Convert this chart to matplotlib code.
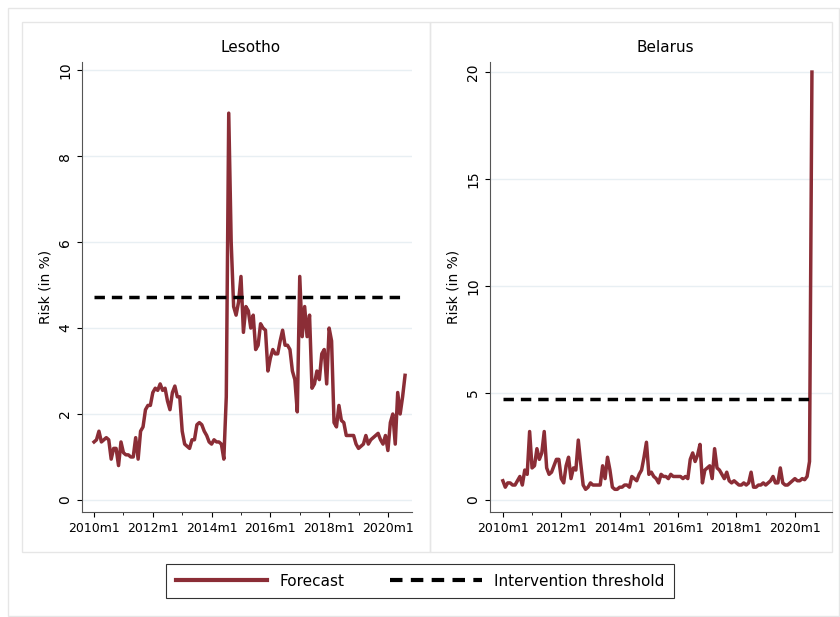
import matplotlib
matplotlib.use("Agg")
import matplotlib.pyplot as plt
import numpy as np
from matplotlib.patches import Rectangle
from matplotlib.lines import Line2D

# monthly risk values starting 2010m1
lesotho = [1.35, 1.4, 1.6, 1.35, 1.4, 1.45, 1.4, 0.95, 1.2, 1.2, 0.8, 1.35,
           1.1, 1.05, 1.05, 1.0, 1.0, 1.45, 0.95, 1.6, 1.7, 2.1, 2.2, 2.2,
           2.5, 2.6, 2.55, 2.7, 2.55, 2.6, 2.3, 2.1, 2.5, 2.65, 2.4, 2.4,
           1.6, 1.3, 1.25, 1.2, 1.4, 1.4, 1.75, 1.8, 1.75, 1.6, 1.5, 1.35,
           1.3, 1.4, 1.35, 1.35, 1.3, 0.95, 2.4, 9.0, 6.0, 4.5, 4.3, 4.6,
           5.2, 3.9, 4.5, 4.4, 4.0, 4.3, 3.5, 3.6, 4.1, 4.0, 3.95, 3.0,
           3.3, 3.5, 3.4, 3.4, 3.7, 3.95, 3.6, 3.6, 3.5, 3.0, 2.8, 2.05,
           5.2, 3.8, 4.5, 3.8, 4.3, 2.6, 2.7, 3.0, 2.8, 3.4, 3.5, 2.7,
           4.0, 3.7, 1.8, 1.7, 2.2, 1.85, 1.8, 1.5, 1.5, 1.5, 1.5, 1.3,
           1.2, 1.25, 1.3, 1.5, 1.3, 1.4, 1.45, 1.5, 1.55, 1.4, 1.3, 1.5,
           1.15, 1.8, 2.0, 1.3, 2.5, 2.0, 2.4, 2.9]
belarus = [0.9, 0.6, 0.8, 0.8, 0.7, 0.7, 0.9, 1.1, 0.7, 1.4, 1.2, 3.2,
           1.5, 1.6, 2.4, 1.9, 2.2, 3.2, 1.5, 1.2, 1.3, 1.6, 1.9, 1.9,
           1.0, 0.8, 1.6, 2.0, 1.0, 1.5, 1.4, 2.8, 1.7, 0.7, 0.5, 0.6,
           0.8, 0.7, 0.7, 0.7, 0.7, 1.6, 1.0, 2.0, 1.4, 0.6, 0.5, 0.5,
           0.6, 0.6, 0.7, 0.7, 0.6, 1.1, 1.0, 0.9, 1.2, 1.4, 2.0, 2.7,
           1.2, 1.3, 1.1, 1.0, 0.8, 1.2, 1.1, 1.1, 1.0, 1.2, 1.1, 1.1,
           1.1, 1.1, 1.0, 1.1, 1.0, 1.9, 2.2, 1.8, 2.1, 2.6, 0.8, 1.4,
           1.5, 1.6, 1.0, 2.4, 1.5, 1.4, 1.2, 1.0, 1.3, 0.9, 0.8, 0.9,
           0.8, 0.7, 0.7, 0.8, 0.7, 0.8, 1.3, 0.6, 0.6, 0.7, 0.7, 0.8,
           0.7, 0.8, 0.9, 1.1, 0.8, 0.8, 1.5, 0.8, 0.7, 0.7, 0.8, 0.9,
           1.0, 0.9, 0.9, 1.0, 0.95, 1.1, 1.8, 20.0]
threshold = 4.72
countries = ["Lesotho", "Belarus"]
yticks = [[0, 2, 4, 6, 8, 10], [0, 5, 10, 15, 20]]
xticks = [2010, 2012, 2014, 2016, 2018, 2020]
xlabels = ["2010m1", "2012m1", "2014m1", "2016m1", "2018m1", "2020m1"]

red = "#8b2d36"
W, H = 840, 617
fig = plt.figure(figsize=(W / 100, H / 100), dpi=100)

def fx(px, py, pw, ph):
    return [px / W, 1 - (py + ph) / H, pw / W, ph / H]

# outer and panel frames
bg = fig.add_axes([0, 0, 1, 1]); bg.axis("off")
bg.set_xlim(0, W); bg.set_ylim(H, 0)
bg.add_patch(Rectangle((8, 8), W - 9, H - 9, fill=False, ec="#e6e6e6", lw=1))
bg.add_patch(Rectangle((22, 22), 408, 530, fill=False, ec="#e6e6e6", lw=1))
bg.add_patch(Rectangle((430, 22), 402, 530, fill=False, ec="#e6e6e6", lw=1))

boxes = [fx(82, 62, 330, 450), fx(490, 62, 342, 450)]
series = [lesotho, belarus]
ylims = [(-0.28, 10.19), (-0.56, 20.47)]
xlims = [(2009.59, 2020.82), (2009.56, 2021.27)]
titles_y = [47, 47]
for i in range(2):
    ax = fig.add_axes(boxes[i])
    y = np.array(series[i])
    x = 2010 + np.arange(len(y)) / 12
    ax.plot(x, y, color=red, lw=2.5)
    ax.plot([x[0], x[-1]], [threshold, threshold],
            color="black", lw=2.5, ls=(0, (3, 2)))
    bg.text(ax.get_position().x0 * W + ax.get_position().width * W / 2 + 4,
            titles_y[i], countries[i], fontsize=11, ha="center", va="center")
    ax.set_yticks(yticks[i])
    ax.set_ylim(*ylims[i])
    ax.set_xlim(*xlims[i])
    ax.set_xticks(xticks, xlabels, fontsize=9)
    ax.set_xticks(np.arange(2011, 2021, 2), minor=True)
    ax.set_ylabel("Risk (in %)", fontsize=10)
    for t in ax.get_yticklabels():
        t.set_rotation(90); t.set_va("center")
    ax.tick_params(axis="y", labelsize=10)
    ax.grid(axis="y", color="#e8eff3", lw=1)
    ax.set_axisbelow(True)
    ax.spines["top"].set_visible(False)
    ax.spines["right"].set_visible(False)
    for s in ["left", "bottom"]:
        ax.spines[s].set_color("#555555")

handles = [Line2D([], [], color=red, lw=3),
           Line2D([], [], color="black", lw=3, ls=(0, (3, 2)))]
fig.legend(handles, ["Forecast", "Intervention threshold"], loc="center",
           bbox_to_anchor=(0.5, 1 - 581 / H), ncol=2, fontsize=11,
           frameon=True, fancybox=False, edgecolor="black", handlelength=6,
           columnspacing=3, borderpad=0.6).get_frame().set_linewidth(0.8)
fig.savefig("out.png", dpi=100)
